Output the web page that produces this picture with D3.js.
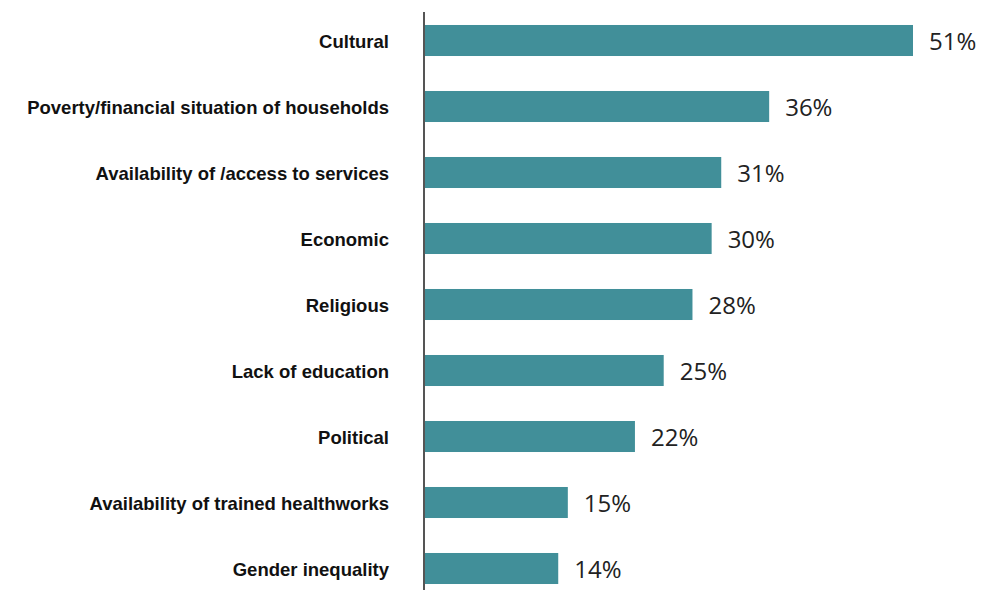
<!DOCTYPE html>
<html>
<head>
<meta charset="utf-8">
<script src="https://cdn.jsdelivr.net/npm/d3@7"></script>
<style>
  body { margin: 0; background: #fff; }
</style>
</head>
<body>
<div id="chart"></div>
<script>
// categories and values
var categories = [
    "Cultural",
    "Poverty/financial situation of households",
    "Availability of /access to services",
    "Economic",
    "Religious",
    "Lack of education",
    "Political",
    "Availability of trained healthworks",
    "Gender inequality"
];
var values = [51, 36, 31, 30, 28, 25, 22, 15, 14];

var data = categories.map(function(c, i){ return { name: c, value: values[i] }; });

var width = 982, height = 590;
var left = 424;

var svg = d3.select("#chart").append("svg")
    .attr("width", width)
    .attr("height", height);

var x = d3.scaleLinear()
    .domain([0, 51])
    .range([left, 913]);

var y = d3.scaleBand()
    .domain(categories)
    .range([7.5, 601.5])
    .paddingInner(0.53)
    .paddingOuter(0.265);

// bars
svg.selectAll("rect.bar")
    .data(data)
  .enter().append("rect")
    .attr("class", "bar")
    .attr("x", x(0))
    .attr("y", function(d){ return y(d.name); })
    .attr("width", function(d){ return x(d.value) - x(0); })
    .attr("height", y.bandwidth())
    .attr("fill", "#418f99");

// value labels
svg.selectAll("text.val")
    .data(data)
  .enter().append("text")
    .attr("class", "val")
    .attr("x", function(d){ return x(d.value) + 16; })
    .attr("y", function(d){ return y(d.name) + y.bandwidth() / 2; })
    .attr("dy", "0.4em")
    .attr("font-family", "'Open Sans', sans-serif")
    .attr("font-size", 24)
    .attr("fill", "#222")
    .text(function(d){ return d.value + "%"; });

// category axis
var yAxis = d3.axisLeft(y).tickSize(0).tickPadding(35);
var g = svg.append("g")
    .attr("transform", "translate(" + left + ",0)")
    .call(yAxis);
g.select(".domain").remove();
g.selectAll("text")
    .attr("dy", "0.42em")
    .attr("font-family", "'Liberation Sans', Arial, sans-serif")
    .attr("font-size", 18.5)
    .attr("font-weight", "bold")
    .attr("fill", "#111");

svg.append("line")
    .attr("x1", left).attr("x2", left)
    .attr("y1", 12).attr("y2", height)
    .attr("stroke", "#555")
    .attr("stroke-width", 2);
</script>
</body>
</html>
